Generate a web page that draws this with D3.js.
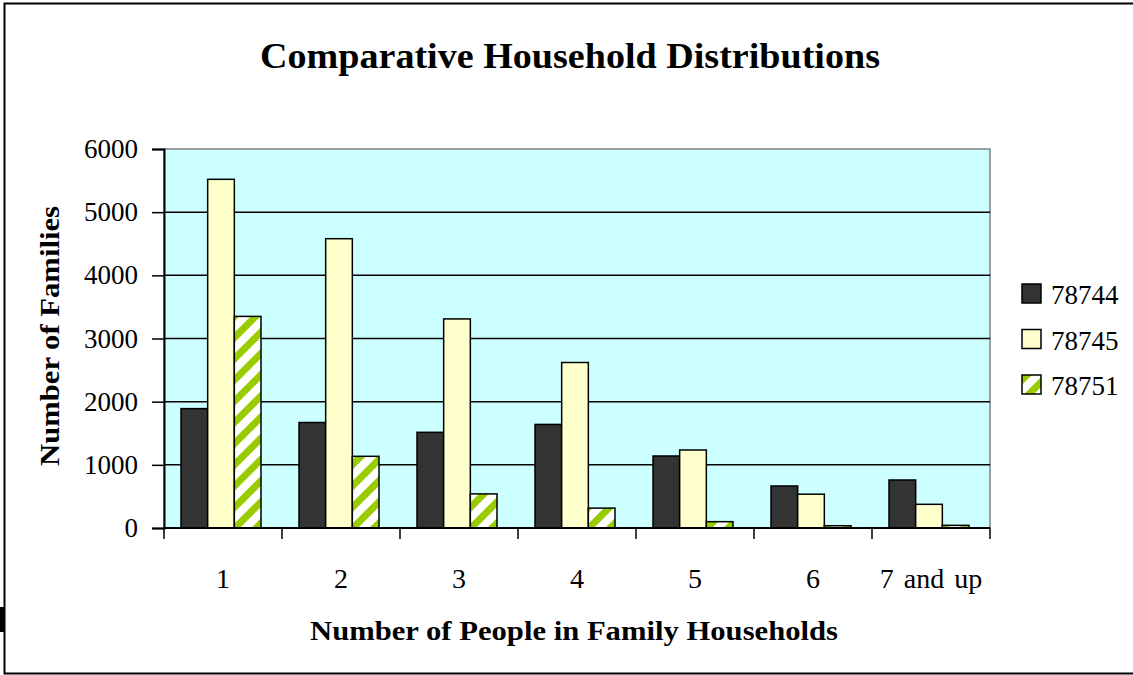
<!DOCTYPE html>
<html>
<head>
<meta charset="utf-8">
<script src="https://cdn.jsdelivr.net/npm/d3@7"></script>
<style>
  html, body { margin: 0; padding: 0; background: #fff; }
  svg { display: block; }
  text { font-family: "Liberation Serif", "Times New Roman", serif; fill: #000; }
</style>
</head>
<body>
<svg id="chart" width="1133" height="675"></svg>
<script>
const categories = ["1", "2", "3", "4", "5", "6", "7 and up"];
const seriesNames = ["78744", "78745", "78751"];
const values78744 = [1890, 1670, 1515, 1640, 1140, 665, 760];
const values78745 = [5520, 4580, 3310, 2620, 1235, 535, 375];
const values78751 = [3350, 1135, 540, 315, 100, 36, 42];
const yTicks = [0, 1000, 2000, 3000, 4000, 5000, 6000];
const titleText = "Comparative Household Distributions";
const xTitleText = "Number of People in Family Households";
const yTitleText = "Number of Families";

const seriesValues = [values78744, values78745, values78751];
const fills = ["#333333", "#ffffcc", "url(#stripes)"];

const svg = d3.select("#chart");

// pattern
const defs = svg.append("defs");
const pat = defs.append("pattern")
  .attr("id", "stripes")
  .attr("patternUnits", "userSpaceOnUse")
  .attr("width", 15).attr("height", 15)
  .attr("patternTransform", "rotate(45)");
pat.append("rect").attr("width", 15).attr("height", 15).attr("fill", "#ffffff");
pat.append("rect").attr("x", 0).attr("width", 7).attr("height", 15).attr("fill", "#99cc00");

// frame
svg.append("rect").attr("x", 4.5).attr("y", 3.5).attr("width", 1140).attr("height", 670)
  .attr("fill", "#fff").attr("stroke", "#000").attr("stroke-width", 2);
svg.append("rect").attr("x", 0).attr("y", 607).attr("width", 5).attr("height", 25).attr("fill", "#000");

const pLeft = 164, pRight = 990, pTop = 149, pBottom = 528;

const y = d3.scaleLinear().domain([0, 6000]).range([pBottom, pTop]);
const x0 = d3.scaleBand().domain(categories).range([pLeft, pRight]).padding(0);
const x1 = d3.scaleBand().domain(seriesNames).range([17, 97]).padding(0);

// plot area
svg.append("rect").attr("x", pLeft).attr("y", pTop).attr("width", pRight - pLeft).attr("height", pBottom - pTop)
  .attr("fill", "#ccffff").attr("stroke", "#808080").attr("stroke-width", 1.5);

// gridlines
svg.append("g").selectAll("line").data(yTicks.filter(d => d > 0 && d < 6000)).join("line")
  .attr("x1", pLeft).attr("x2", pRight)
  .attr("y1", d => y(d)).attr("y2", d => y(d))
  .attr("stroke", "#000").attr("stroke-width", 1.5);

// bars
const groups = svg.append("g").selectAll("g").data(categories).join("g")
  .attr("transform", d => `translate(${x0(d)},0)`);
groups.selectAll("rect").data((c, i) => seriesNames.map((s, j) => ({ s, v: seriesValues[j][i], j })))
  .join("rect")
  .attr("x", d => x1(d.s))
  .attr("width", x1.bandwidth())
  .attr("y", d => y(d.v))
  .attr("height", d => y(0) - y(d.v))
  .attr("fill", d => fills[d.j])
  .attr("stroke", "#000").attr("stroke-width", 1.5);

// y axis
const yAxis = d3.axisLeft(y).tickValues(yTicks).tickSize(12).tickPadding(14).tickFormat(d3.format("d"));
const gy = svg.append("g").attr("transform", `translate(${pLeft},0)`).call(yAxis);
gy.select(".domain").attr("stroke", "#000").attr("stroke-width", 2);
gy.selectAll(".tick line").attr("stroke", "#000").attr("stroke-width", 1.5);
gy.selectAll(".tick text").style("font-family", '"Liberation Serif", serif').style("font-size", "27px").attr("fill", "#000");

// x axis: ticks at category boundaries
const boundaries = categories.map(c => x0(c)).concat([pRight]);
svg.append("line").attr("x1", pLeft).attr("x2", pRight).attr("y1", pBottom).attr("y2", pBottom)
  .attr("stroke", "#000").attr("stroke-width", 2);
svg.append("g").selectAll("line").data(boundaries).join("line")
  .attr("x1", d => d).attr("x2", d => d).attr("y1", pBottom).attr("y2", pBottom + 11)
  .attr("stroke", "#000").attr("stroke-width", 1.5);
svg.append("g").selectAll("text").data(categories).join("text")
  .attr("x", d => x0(d) + x0.bandwidth() / 2)
  .attr("y", 588)
  .attr("text-anchor", "middle")
  .style("font-size", "28px")
  .style("word-spacing", "3px")
  .text(d => d);

// titles
svg.append("text").attr("x", 570).attr("y", 68).attr("text-anchor", "middle")
  .attr("textLength", 620).attr("lengthAdjust", "spacingAndGlyphs")
  .style("font-size", "35px").style("font-weight", "bold").text(titleText);
svg.append("text").attr("x", 574).attr("y", 640).attr("text-anchor", "middle")
  .attr("textLength", 528).attr("lengthAdjust", "spacingAndGlyphs")
  .style("font-size", "27px").style("font-weight", "bold").text(xTitleText);
svg.append("text").attr("transform", "translate(59,336) rotate(-90)").attr("text-anchor", "middle")
  .attr("textLength", 260).attr("lengthAdjust", "spacingAndGlyphs")
  .style("font-size", "27px").style("font-weight", "bold").text(yTitleText);

// legend
const legend = svg.append("g").selectAll("g").data(seriesNames).join("g")
  .attr("transform", (d, i) => `translate(1022,${284 + i * 45.5})`);
legend.append("rect").attr("width", 19).attr("height", 19)
  .attr("fill", (d, i) => fills[i]).attr("stroke", "#000").attr("stroke-width", 1.5);
legend.append("text").attr("x", 29).attr("y", 20).style("font-size", "27px").text(d => d);
</script>
</body>
</html>
